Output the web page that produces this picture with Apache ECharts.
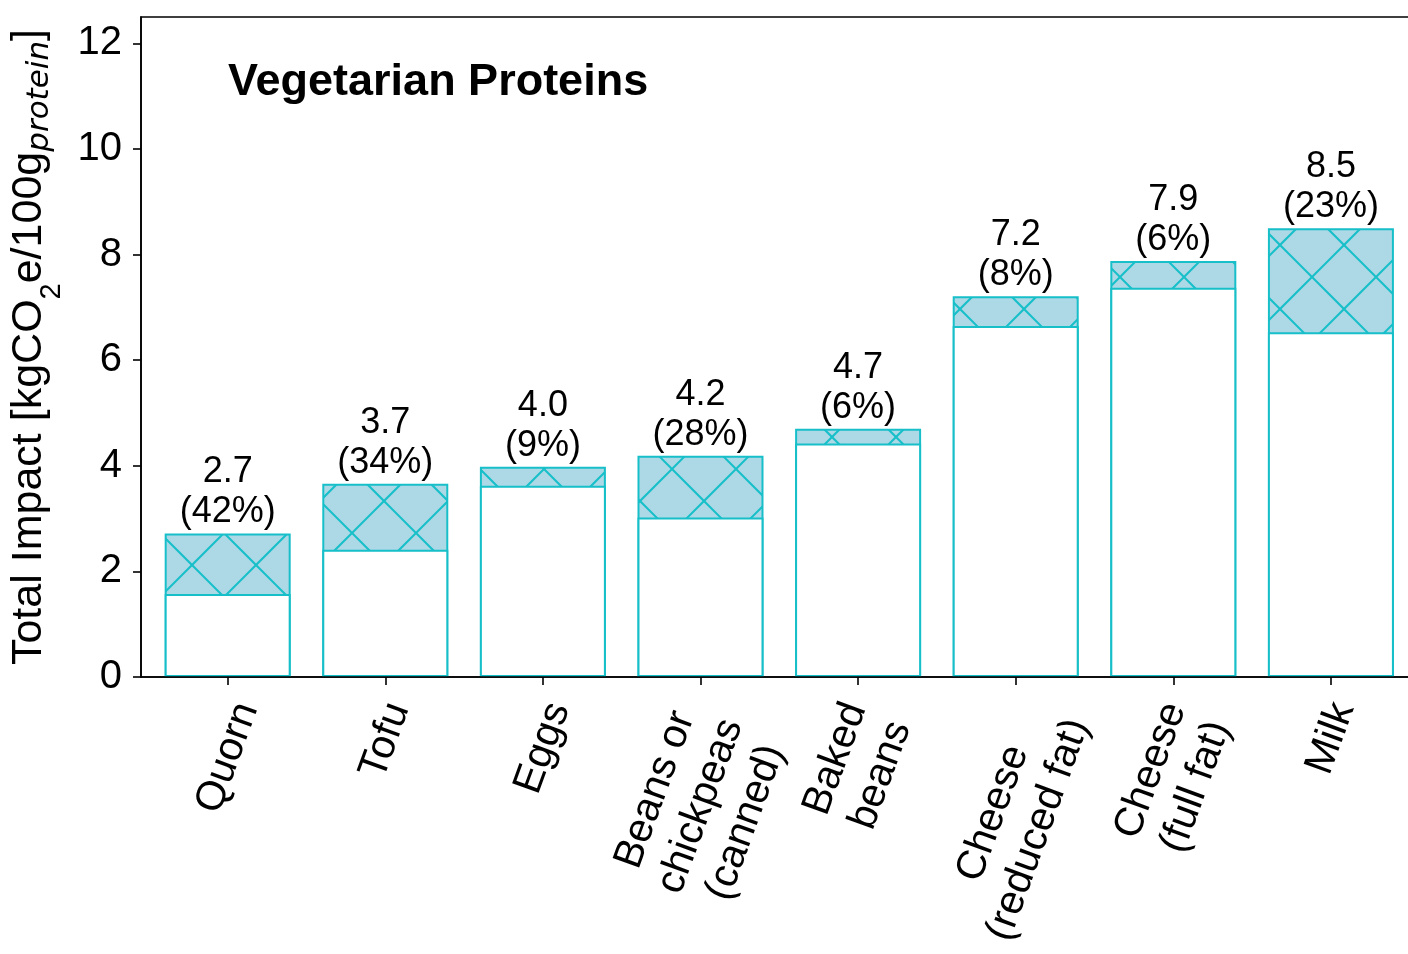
<!DOCTYPE html>
<html>
<head>
<meta charset="utf-8">
<script src="https://cdn.jsdelivr.net/npm/echarts@6.0.0/dist/echarts.min.js"></script>
<style>
  html, body { margin: 0; padding: 0; background: #fff; }
  #chart { width: 1408px; height: 954px; }
</style>
</head>
<body>
<div id="chart"></div>
<script>
// data
var categories = ['Quorn', 'Tofu', 'Eggs', 'Beans or\nchickpeas\n(canned)', 'Baked\nbeans',
                  'Cheese\n(reduced fat)', 'Cheese\n(full fat)', 'Milk'];
var totalImpact = [2.72, 3.66, 3.98, 4.19, 4.70, 7.21, 7.88, 8.50];
var baseImpact = [1.57, 2.41, 3.62, 3.02, 4.42, 6.65, 7.37, 6.53];
var totalLabels = ['2.7', '3.7', '4.0', '4.2', '4.7', '7.2', '7.9', '8.5'];
var shareLabels = [42, 34, 9, 28, 6, 8, 6, 23];
var yTicks = [0, 2, 4, 6, 8, 10, 12];
var xTicks = [0, 1, 2, 3, 4, 5, 6, 7];

var FONT = '"Liberation Sans", Arial, sans-serif';
var TEAL = '#17bfc9';
var ROT = 70 * Math.PI / 180;
var X_FONT = 41, X_LINE = 48, X_PAD = 19;

// cross hatch tile
var hatch = document.createElement('canvas');
hatch.width = 64; hatch.height = 64;
var hc = hatch.getContext('2d');
hc.fillStyle = '#add8e6';
hc.fillRect(0, 0, 64, 64);
hc.strokeStyle = TEAL;
hc.lineWidth = 2;
for (var k = -1; k <= 1; k++) {
    var o = k * 64;
    hc.beginPath();
    hc.moveTo(-10, -21 + o); hc.lineTo(74, 63 + o);
    hc.moveTo(-10, 63 + o); hc.lineTo(74, -21 + o);
    hc.stroke();
}

var measure = document.createElement('canvas').getContext('2d');
measure.font = X_FONT + 'px ' + FONT;

var chart = echarts.init(document.getElementById('chart'));

var option = {
    animation: false,
    title: {
        text: 'Vegetarian Proteins',
        left: 223,
        top: 55,
        textStyle: { fontSize: 45, fontWeight: 'bold', fontFamily: FONT, color: '#000' }
    },
    grid: {
        left: 141, top: 17, width: 1276.6, height: 660,
        outerBoundsMode: 'none',
        containLabel: false,
        show: true, borderColor: '#000', borderWidth: 1.6, backgroundColor: 'transparent'
    },
    xAxis: {
        type: 'value',
        min: -0.55,
        max: 7.55,
        z: 10,
        splitLine: { show: false },
        axisLine: { onZero: false, lineStyle: { color: '#000', width: 1.6 } },
        axisTick: { customValues: xTicks, length: 8, lineStyle: { color: '#000', width: 1.6 } },
        axisLabel: { show: false }
    },
    yAxis: {
        type: 'value',
        min: 0,
        max: 12.5,
        z: 10,
        splitLine: { show: false },
        axisLine: { show: true, onZero: false, lineStyle: { color: '#000', width: 1.6 } },
        axisTick: { show: true, customValues: yTicks, length: 8, lineStyle: { color: '#000', width: 1.6 } },
        axisLabel: { customValues: yTicks, fontSize: 40, fontFamily: FONT, color: '#000', margin: 19 },
        name: '{m|Total Impact [kgCO}{s|2}{m|e/100g}{i|protein}{m|]}',
        nameLocation: 'middle',
        nameRotate: 90,
        nameGap: 70,
        nameTextStyle: {
            color: '#000',
            rich: {
                m: { fontSize: 43, fontFamily: FONT, color: '#000', lineHeight: 50 },
                s: { fontSize: 29, fontFamily: FONT, color: '#000', lineHeight: 29, padding: [46, 0, 0, 0] },
                i: { fontSize: 31, fontFamily: '"DejaVu Sans"', fontStyle: 'italic', color: '#000',
                     lineHeight: 31, padding: [22, 0, 0, 0] }
            }
        }
    },
    series: [
        {
            // full height, hatched; the plain part is laid over it
            name: 'total',
            type: 'bar',
            barWidth: 126,
            barGap: '-100%',
            itemStyle: { color: { image: hatch, repeat: 'repeat' }, borderColor: TEAL, borderWidth: 2 },
            label: {
                show: true,
                position: 'top',
                distance: 1,
                fontSize: 36,
                lineHeight: 40,
                fontFamily: FONT,
                color: '#000',
                formatter: function (p) {
                    return totalLabels[p.dataIndex] + '\n(' + shareLabels[p.dataIndex] + '%)';
                }
            },
            data: totalImpact.map(function (v, i) { return [xTicks[i], v]; })
        },
        {
            name: 'base',
            type: 'bar',
            barWidth: 126,
            barGap: '-100%',
            itemStyle: { color: '#fff', borderColor: TEAL, borderWidth: 2 },
            data: baseImpact.map(function (v, i) { return [xTicks[i], v]; })
        },
        {
            // rotated category labels, centred under each tick like matplotlib does
            name: 'labels',
            type: 'custom',
            silent: true,
            clip: false,
            z: 20,
            data: xTicks.map(function (x) { return [x, 0]; }),
            renderItem: function (params, api) {
                var i = api.value(0);
                var p = api.coord([i, 0]);
                var lines = categories[i].split('\n');
                var w = Math.max.apply(null, lines.map(function (l) { return measure.measureText(l).width; }));
                var h = lines.length * X_LINE;
                var boxH = w * Math.sin(ROT) + h * Math.cos(ROT);
                return {
                    type: 'text',
                    x: p[0],
                    y: p[1] + X_PAD + boxH / 2,
                    rotation: ROT,
                    style: {
                        text: categories[i],
                        fontSize: X_FONT,
                        fontFamily: FONT,
                        lineHeight: X_LINE,
                        fill: '#000',
                        align: 'center',
                        verticalAlign: 'middle'
                    }
                };
            }
        }
    ]
};

chart.setOption(option);
</script>
</body>
</html>
